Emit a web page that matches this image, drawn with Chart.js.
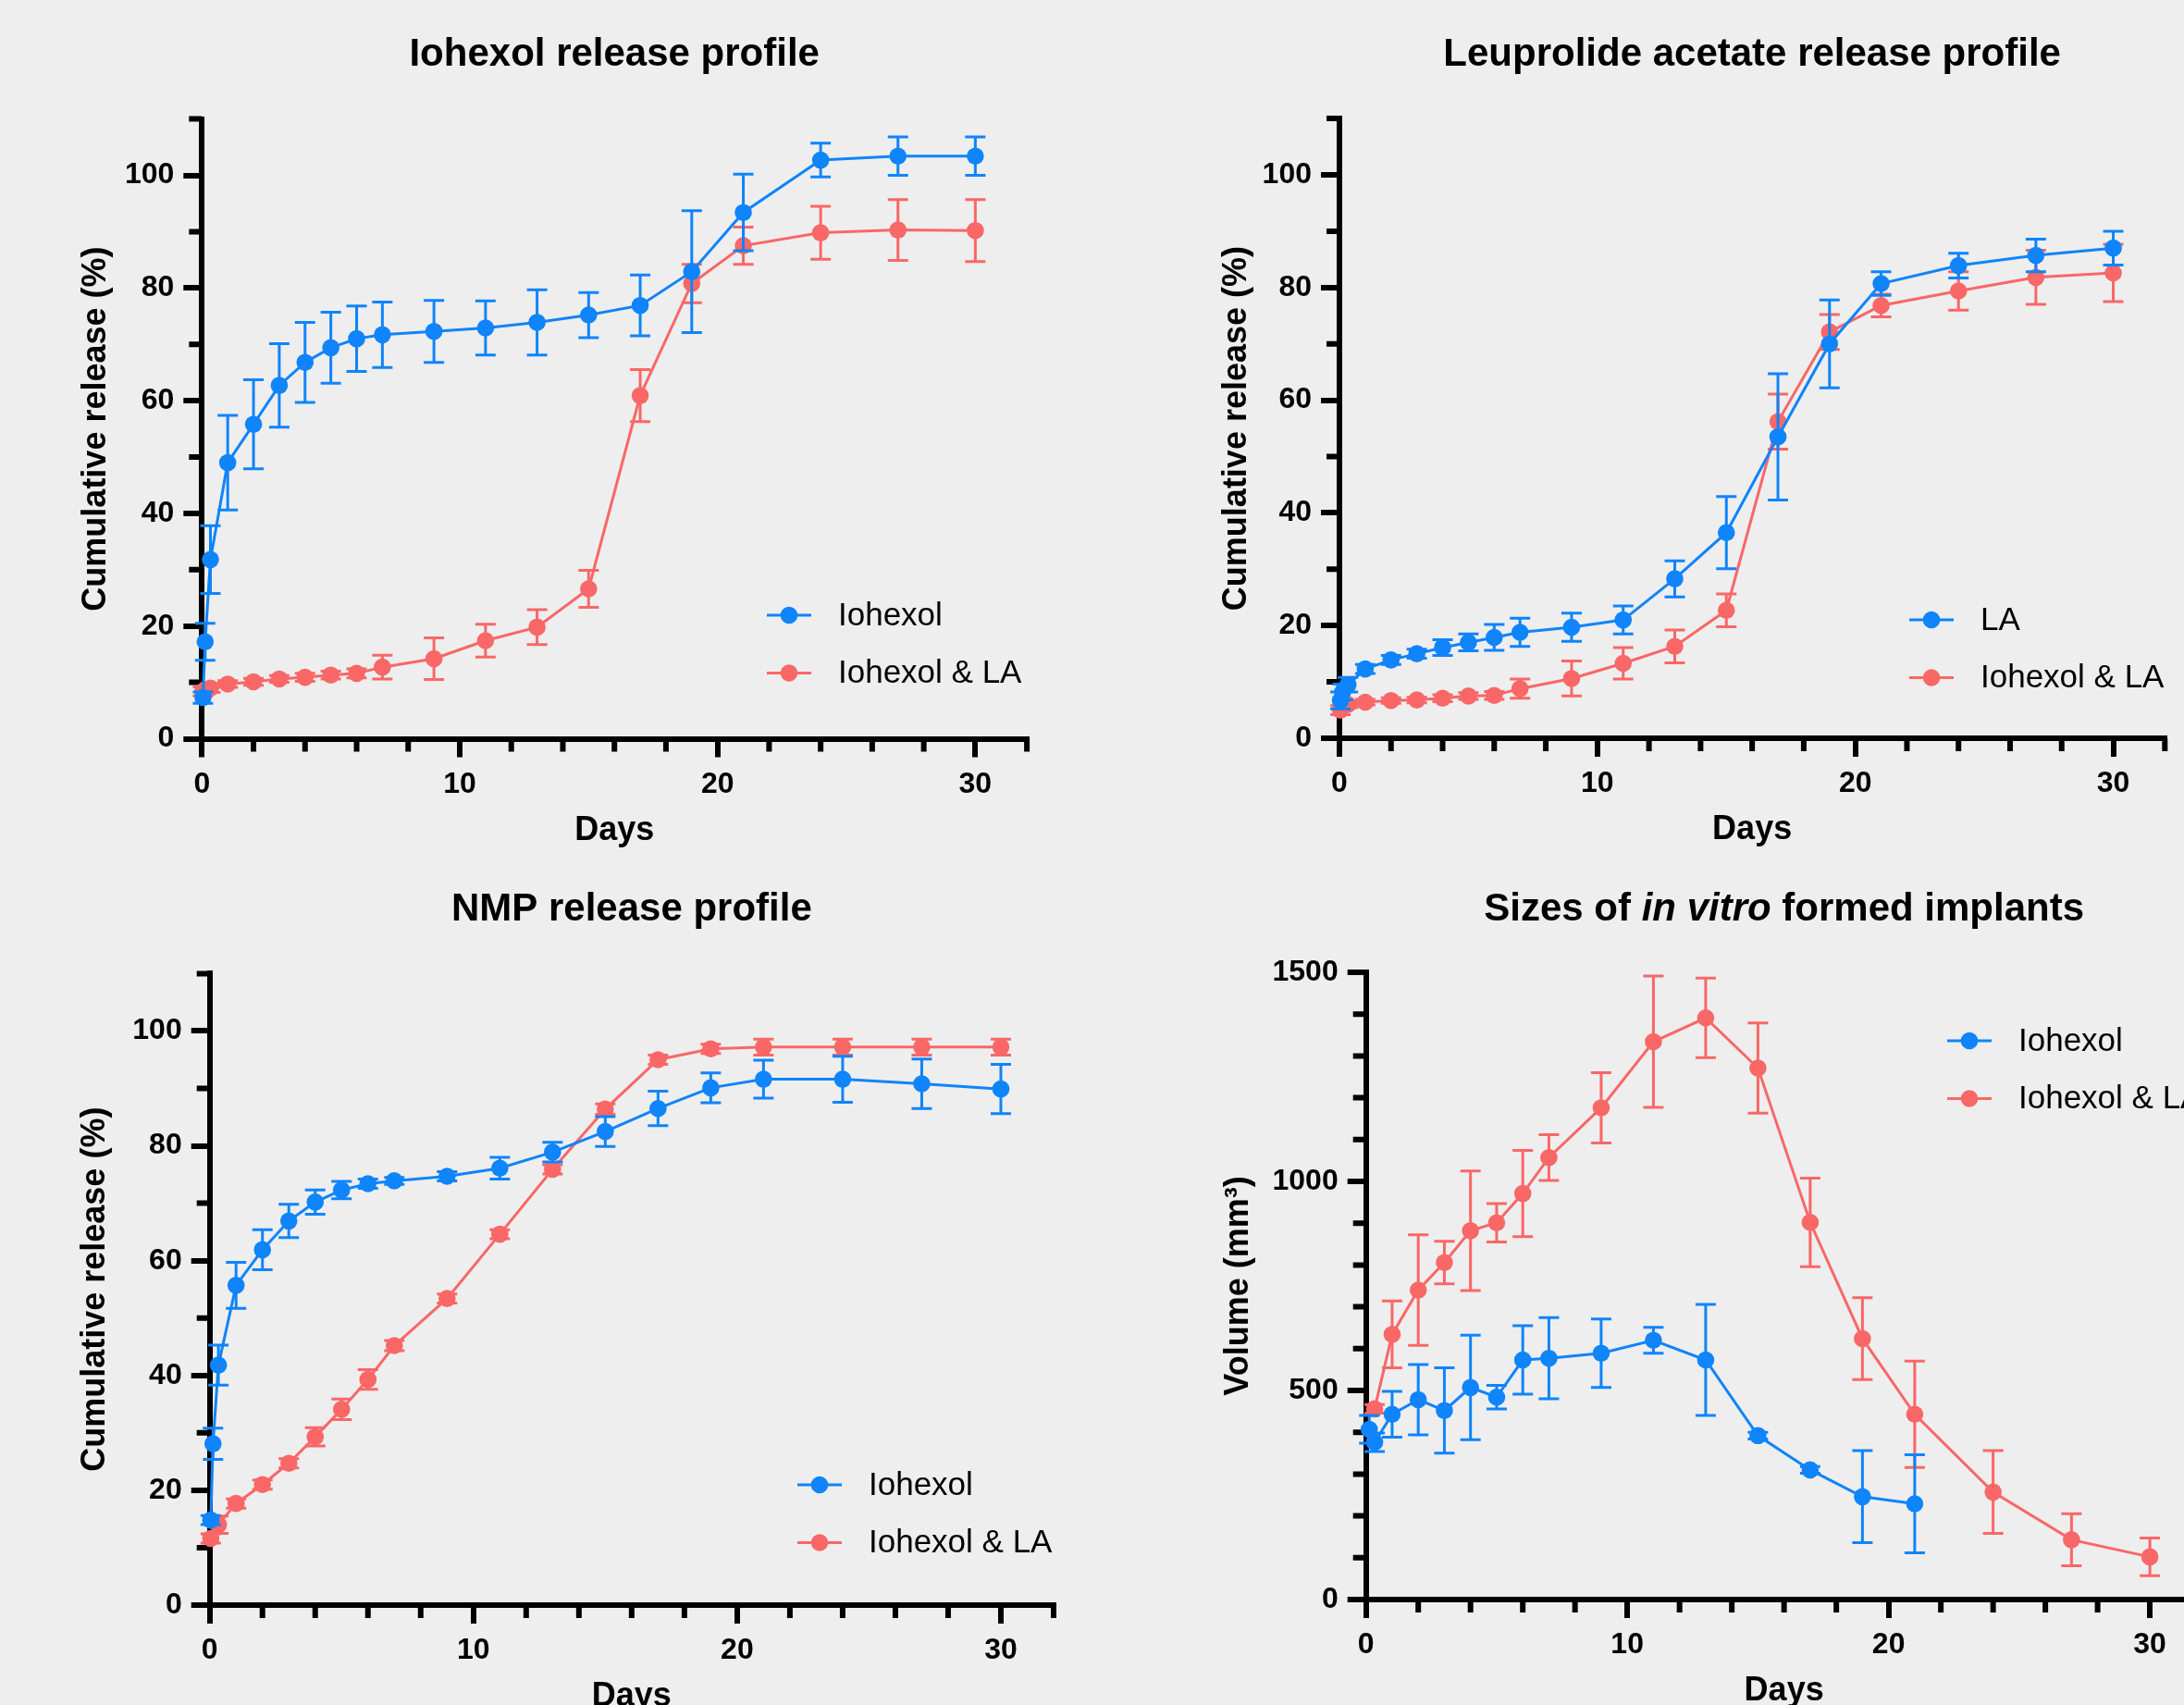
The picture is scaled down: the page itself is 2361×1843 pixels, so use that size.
<!DOCTYPE html>
<html>
<head>
<meta charset="utf-8">
<script src="https://cdn.jsdelivr.net/npm/chart.js@4.4.1/dist/chart.umd.min.js"></script>
<style>
  html, body { margin: 0; padding: 0; background: #eeeeee; width: 2361px; height: 1843px; overflow: hidden; }
  canvas { position: absolute; }
</style>
</head>
<body>
<canvas id="c1"></canvas>
<canvas id="c2"></canvas>
<canvas id="c3"></canvas>
<canvas id="c4"></canvas>
<script>
// ---------- data ----------
const DAYS = [1, 2, 3, 4, 5, 6, 7, 9, 11, 13, 15, 17, 19, 21, 24, 27, 30];

// Iohexol release profile
const iohexolDays = [0.04, 0.125, 0.33].concat(DAYS);
const iohexolRel  = [7.3, 17.2, 31.8, 49.0, 55.8, 62.7, 66.8, 69.4, 71.0, 71.7, 72.3, 72.9, 73.9, 75.2, 76.9, 82.9, 93.4, 102.7, 103.4, 103.4];
const iohexolSd   = [1.0, 3.3, 6.0, 8.4, 7.9, 7.4, 7.1, 6.3, 5.8, 5.8, 5.5, 4.8, 5.8, 4.0, 5.4, 10.8, 6.8, 3.0, 3.4, 3.4];
const comboIohDays = [0.04, 0.33].concat(DAYS);
const comboIohRel  = [8.4, 9.0, 9.7, 10.1, 10.6, 10.9, 11.3, 11.6, 12.7, 14.2, 17.4, 19.8, 26.6, 60.9, 80.8, 87.5, 89.8, 90.3, 90.2];
const comboIohSd   = [0.8, 0.8, 0.6, 0.6, 0.6, 0.7, 0.7, 0.8, 2.1, 3.7, 2.9, 3.1, 3.3, 4.6, 3.4, 3.3, 4.7, 5.4, 5.5];

// Leuprolide acetate release profile
const laDays = [0.04, 0.125, 0.33].concat(DAYS);
const laRel  = [6.7, 8.2, 9.5, 12.3, 13.9, 15.0, 16.1, 17.0, 17.9, 18.8, 19.7, 21.0, 28.3, 36.5, 53.5, 70.0, 80.7, 83.9, 85.7, 87.0];
const laSd   = [1.5, 1.4, 1.3, 0.8, 0.8, 0.8, 1.4, 1.5, 2.3, 2.5, 2.5, 2.5, 3.2, 6.4, 11.2, 7.8, 2.1, 2.2, 2.9, 3.0];
const comboLaDays = [0.04, 0.33].concat(DAYS);
const comboLaRel  = [5.0, 6.0, 6.4, 6.7, 6.8, 7.1, 7.5, 7.6, 8.8, 10.6, 13.3, 16.3, 22.7, 56.2, 72.1, 76.8, 79.4, 81.8, 82.6];
const comboLaSd   = [0.8, 0.6, 0.5, 0.5, 0.5, 0.6, 0.6, 0.7, 1.7, 3.1, 2.8, 2.9, 2.9, 4.9, 3.1, 2.0, 3.4, 4.8, 5.1];

// NMP release profile
const nmpIohDays = [0.04, 0.125, 0.33].concat(DAYS);
const nmpIohRel  = [14.8, 28.1, 41.8, 55.7, 61.9, 66.9, 70.2, 72.3, 73.4, 73.9, 74.7, 76.1, 78.9, 82.5, 86.5, 90.1, 91.6, 91.6, 90.8, 89.9];
const nmpIohSd   = [0.8, 2.7, 3.5, 4.0, 3.5, 2.9, 2.1, 1.5, 0.8, 0.6, 0.8, 1.9, 1.7, 2.6, 3.0, 2.6, 3.3, 4.0, 4.3, 4.3];
const nmpComboDays = [0.04, 0.33].concat(DAYS);
const nmpComboRel  = [11.6, 14.0, 17.7, 21.0, 24.7, 29.3, 34.1, 39.3, 45.2, 53.4, 64.6, 75.9, 86.4, 95.0, 96.9, 97.2, 97.2, 97.2, 97.2];
const nmpComboSd   = [0.8, 1.5, 0.8, 0.8, 0.8, 1.6, 1.8, 1.7, 0.9, 0.8, 0.8, 0.8, 0.9, 0.8, 0.8, 1.4, 1.4, 1.4, 1.4];

// Sizes of in vitro formed implants (mm3)
const sizeIohDays = [0.125, 0.33, 1, 2, 3, 4, 5, 6, 7, 9, 11, 13, 15, 17, 19, 21];
const sizeIohVol  = [407, 376, 443, 478, 452, 507, 484, 573, 577, 589, 620, 573, 392, 310, 246, 229];
const sizeIohSd   = [33, 22, 55, 84, 102, 125, 28, 82, 97, 82, 31, 133, 8, 8, 110, 117];
const sizeComboDays = [0.33].concat(DAYS);
const sizeComboVol  = [456, 634, 740, 806, 882, 901, 971, 1057, 1176, 1334, 1391, 1271, 902, 624, 443, 257, 143, 102];
const sizeComboSd   = [10, 80, 132, 51, 143, 46, 103, 55, 84, 157, 95, 108, 106, 98, 127, 99, 62, 45];

// ticks
const xMajor = [0, 10, 20, 30];
const xMinor = [2, 4, 6, 8, 12, 14, 16, 18, 22, 24, 26, 28, 32];
const relMajor = [0, 20, 40, 60, 80, 100];
const relMinor = [10, 30, 50, 70, 90, 110];
const volMajor = [0, 500, 1000, 1500];
const volMinor = [100, 200, 300, 400, 600, 700, 800, 900, 1100, 1200, 1300, 1400];

const BLUE = "#0f84fb";
const RED = "#f96767";
const FONT = "'Liberation Sans', Arial, Helvetica, sans-serif";
const DOT = 9.3;

/* ---------- plugins ---------- */
const errorBars = {
  id: "errorBars",
  beforeDatasetDraw(chart, args) {
    const ds = chart.data.datasets[args.index];
    if (!ds.sd) return;
    const { ctx, scales: { x, y } } = chart;
    ctx.save();
    ctx.strokeStyle = ds.borderColor;
    ctx.lineWidth = 3;
    ctx.beginPath();
    ds.data.forEach((p, i) => {
      const s = ds.sd[i];
      if (!s) return;
      const px = x.getPixelForValue(p.x);
      const top = y.getPixelForValue(p.y + s);
      const bot = y.getPixelForValue(p.y - s);
      ctx.moveTo(px, top); ctx.lineTo(px, bot);
      ctx.moveTo(px - 11, top); ctx.lineTo(px + 11, top);
      ctx.moveTo(px - 11, bot); ctx.lineTo(px + 11, bot);
    });
    ctx.stroke();
    ctx.restore();
  }
};

const minorTicks = {
  id: "minorTicks",
  beforeDatasetsDraw(chart, args, opts) {
    const { ctx, chartArea, scales: { x, y } } = chart;
    ctx.save();
    ctx.strokeStyle = "#000";
    ctx.lineWidth = 6;
    ctx.beginPath();
    (opts.x || []).forEach(v => {
      const px = x.getPixelForValue(v);
      ctx.moveTo(px, chartArea.bottom);
      ctx.lineTo(px, chartArea.bottom + 14);
    });
    (opts.y || []).forEach(v => {
      const py = y.getPixelForValue(v);
      ctx.moveTo(chartArea.left, py);
      ctx.lineTo(chartArea.left - 14, py);
    });
    ctx.stroke();
    ctx.restore();
  }
};

const sideLegend = {
  id: "sideLegend",
  afterDatasetsDraw(chart, args, opts) {
    const ctx = chart.ctx;
    ctx.save();
    chart.data.datasets.forEach((ds, i) => {
      const cx = opts.x, cy = opts.y + i * 62.5;
      ctx.strokeStyle = ds.borderColor;
      ctx.lineWidth = 3;
      ctx.beginPath(); ctx.moveTo(cx - 24, cy); ctx.lineTo(cx + 24, cy); ctx.stroke();
      ctx.fillStyle = ds.borderColor;
      ctx.beginPath(); ctx.arc(cx, cy, DOT, 0, Math.PI * 2); ctx.fill();
      ctx.fillStyle = "#000";
      ctx.font = `35px ${FONT}`;
      ctx.textBaseline = "middle";
      ctx.textAlign = "left";
      ctx.fillText(ds.label, cx + 53, cy + 1);
    });
    ctx.restore();
  }
};

// panel title, may mix upright and italic runs
const panelTitle = {
  id: "panelTitle",
  afterDraw(chart, args, opts) {
    const ctx = chart.ctx;
    const { left, right } = chart.chartArea;
    ctx.save();
    ctx.fillStyle = "#000";
    ctx.textBaseline = "alphabetic";
    ctx.textAlign = "left";
    const fontOf = it => `${it ? "italic " : ""}bold 42px ${FONT}`;
    let total = 0;
    opts.parts.forEach(([t, it]) => { ctx.font = fontOf(it); total += ctx.measureText(t).width; });
    let x = (left + right) / 2 - total / 2;
    opts.parts.forEach(([t, it]) => {
      ctx.font = fontOf(it);
      ctx.fillText(t, x, opts.y);
      x += ctx.measureText(t).width;
    });
    ctx.restore();
  }
};

/* ---------- panels ---------- */
function pts(days, vals) { return days.map((d, i) => ({ x: d, y: vals[i] })); }

function makeDataset(label, days, vals, sd, color) {
  return {
    label, data: pts(days, vals), sd,
    borderColor: color, backgroundColor: color,
    pointBackgroundColor: color, pointBorderWidth: 0,
    pointRadius: DOT, borderWidth: 3, tension: 0, clip: false
  };
}

function makePanel(p) {
  const canvas = document.getElementById(p.id);
  const W = Math.ceil(p.x32 - p.left + 22);
  const H = Math.ceil(p.yBot - p.top + 142);
  canvas.width = W; canvas.height = H;
  canvas.style.left = p.left + "px";
  canvas.style.top = p.top + "px";
  const yAxisW = p.x0 - p.left;
  const xAxisH = H - (p.yBot - p.top);
  const tickFont = { family: FONT, size: 32, weight: "bold" };

  new Chart(canvas.getContext("2d"), {
    type: "line",
    data: { datasets: p.datasets },
    options: {
      responsive: false,
      animation: false,
      events: [],
      layout: { autoPadding: false, padding: { left: 0, top: p.yTop - p.top, right: W - (p.x32 - p.left), bottom: 0 } },
      plugins: {
        legend: { display: false },
        tooltip: { enabled: false },
        title: { display: false },
        minorTicks: { x: xMinor, y: p.yMinor },
        sideLegend: { x: p.legend[0] - p.left, y: p.legend[1] - p.top },
        panelTitle: { parts: p.title, y: p.titleY - p.top }
      },
      scales: {
        x: {
          type: "linear", min: 0, max: 32,
          afterBuildTicks: s => { s.ticks = xMajor.map(v => ({ value: v })); },
          afterFit: s => { s.height = xAxisH; },
          grid: { drawOnChartArea: false, tickLength: 20, lineWidth: 6, color: "#000" },
          border: { color: "#000", width: 6 },
          ticks: { color: "#000", padding: 10, font: tickFont, callback: v => String(v) },
          title: { display: true, text: "Days", color: "#000",
                   font: { family: FONT, size: 36, weight: "bold" },
                   padding: { top: 0, bottom: xAxisH - 121.1 } }
        },
        y: {
          type: "linear", min: 0, max: p.yMax,
          afterBuildTicks: s => { s.ticks = p.yMajor.map(v => ({ value: v })); },
          afterFit: s => { s.width = yAxisW; },
          grid: { drawOnChartArea: false, tickLength: 20, lineWidth: 6, color: "#000" },
          border: { color: "#000", width: 6 },
          ticks: { color: "#000", padding: 10, font: tickFont, callback: v => String(v) },
          title: { display: true, text: p.yTitle, color: "#000",
                   font: { family: FONT, size: 36, weight: "bold" },
                   padding: { top: p.yTitleX - p.left - 21.6, bottom: 0 } }
        }
      }
    },
    plugins: [errorBars, minorTicks, sideLegend, panelTitle]
  });
}

makePanel({
  id: "c1", left: 0, top: 0, x0: 218.3, x32: 1110.1, yTop: 128.6, yBot: 798.5,
  yMax: 110, yMajor: relMajor, yMinor: relMinor,
  yTitle: "Cumulative release (%)", yTitleX: 104,
  title: [["Iohexol release profile", false]], titleY: 71,
  legend: [853, 665],
  datasets: [
    makeDataset("Iohexol", iohexolDays, iohexolRel, iohexolSd, BLUE),
    makeDataset("Iohexol & LA", comboIohDays, comboIohRel, comboIohSd, RED)
  ]
});

makePanel({
  id: "c2", left: 1230, top: 0, x0: 1448, x32: 2340.3, yTop: 128.1, yBot: 798,
  yMax: 110, yMajor: relMajor, yMinor: relMinor,
  yTitle: "Cumulative release (%)", yTitleX: 1337,
  title: [["Leuprolide acetate release profile", false]], titleY: 71,
  legend: [2088, 670],
  datasets: [
    makeDataset("LA", laDays, laRel, laSd, BLUE),
    makeDataset("Iohexol & LA", comboLaDays, comboLaRel, comboLaSd, RED)
  ]
});

makePanel({
  id: "c3", left: 0, top: 930, x0: 226.7, x32: 1139.0, yTop: 1052.4, yBot: 1735,
  yMax: 110, yMajor: relMajor, yMinor: relMinor,
  yTitle: "Cumulative release (%)", yTitleX: 103,
  title: [["NMP release profile", false]], titleY: 995,
  legend: [886, 1605],
  datasets: [
    makeDataset("Iohexol", nmpIohDays, nmpIohRel, nmpIohSd, BLUE),
    makeDataset("Iohexol & LA", nmpComboDays, nmpComboRel, nmpComboSd, RED)
  ]
});

makePanel({
  id: "c4", left: 1230, top: 930, x0: 1476.7, x32: 2380.6, yTop: 1051, yBot: 1729,
  yMax: 1500, yMajor: volMajor, yMinor: volMinor,
  yTitle: "Volume (mm³)", yTitleX: 1339,
  title: [["Sizes of ", false], ["in vitro", true], [" formed implants", false]], titleY: 995,
  legend: [2129, 1125],
  datasets: [
    makeDataset("Iohexol", sizeIohDays, sizeIohVol, sizeIohSd, BLUE),
    makeDataset("Iohexol & LA", sizeComboDays, sizeComboVol, sizeComboSd, RED)
  ]
});
</script>
</body>
</html>
